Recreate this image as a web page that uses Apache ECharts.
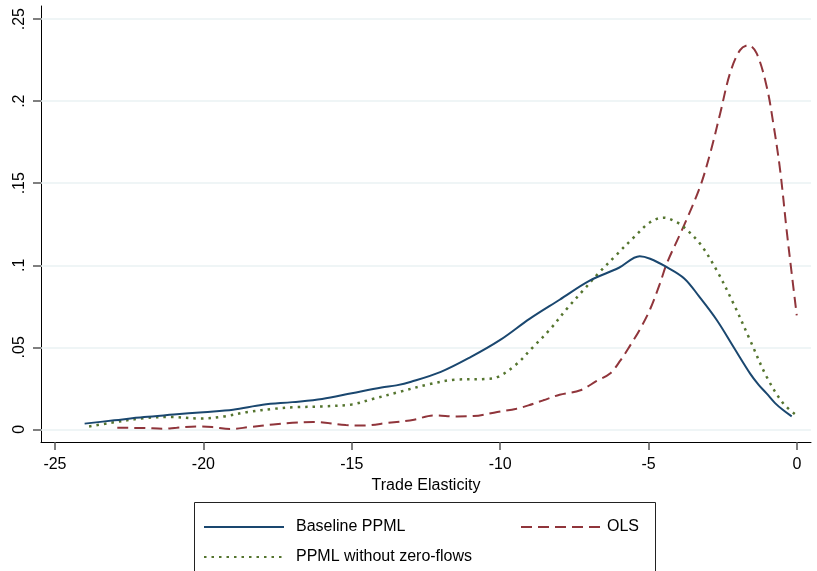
<!DOCTYPE html>
<html>
<head>
<meta charset="utf-8">
<script src="https://cdn.jsdelivr.net/npm/echarts@6/dist/echarts.min.js"></script>
<style>
  html, body { margin: 0; padding: 0; background: #fff; }
  #chart { width: 817px; height: 571px; }
</style>
</head>
<body>
<div id="chart"></div>
<script>
// Kernel density estimates of the trade elasticity, [elasticity, density]
const baselinePPML = [
  [-24.0, 0.0035], [-23.0, 0.0055], [-22.0, 0.0075], [-21.0, 0.0090], [-20.0, 0.0105],
  [-19.0, 0.0120], [-18.0, 0.0150], [-17.0, 0.0166], [-16.0, 0.0185], [-15.0, 0.0220],
  [-14.0, 0.0255], [-13.5, 0.0268], [-13.0, 0.0290], [-12.0, 0.0350], [-11.0, 0.0440],
  [-10.0, 0.0545], [-9.0, 0.0675], [-8.0, 0.0790], [-7.0, 0.0905], [-6.0, 0.0985],
  [-5.3, 0.1055], [-4.95, 0.1040], [-4.4, 0.0990], [-3.8, 0.0920], [-3.3, 0.0810],
  [-2.7, 0.0665], [-2.14, 0.0502], [-1.58, 0.0340], [-1.3, 0.0273], [-1.02, 0.0218],
  [-0.74, 0.0160], [-0.46, 0.0116], [-0.18, 0.0079]
];
const olsEstimates = [
  [-22.9, 0.0010], [-22.0, 0.0008], [-21.35, 0.0004], [-20.9, 0.0010], [-20.2, 0.0018],
  [-19.7, 0.0014], [-19.1, 0.0002], [-18.45, 0.0014], [-17.65, 0.0030], [-17.0, 0.0040],
  [-16.3, 0.0045], [-15.2, 0.0026], [-14.6, 0.0024], [-13.8, 0.0039], [-12.9, 0.0059],
  [-12.25, 0.0085], [-11.45, 0.0079], [-10.9, 0.0081], [-10.1, 0.0106], [-9.45, 0.0126],
  [-9.05, 0.0146], [-8.55, 0.0177], [-8.0, 0.0211], [-7.3, 0.0238], [-6.75, 0.0295],
  [-6.3, 0.0340], [-5.95, 0.0420], [-5.62, 0.0512], [-5.28, 0.0614], [-4.95, 0.0732],
  [-4.62, 0.0888], [-4.39, 0.1010], [-3.83, 0.1234], [-3.27, 0.1477], [-2.93, 0.1680],
  [-2.59, 0.1925], [-2.26, 0.2169], [-1.92, 0.2311], [-1.64, 0.2341], [-1.36, 0.2291],
  [-1.02, 0.2087], [-0.8, 0.1864], [-0.57, 0.1580], [-0.35, 0.1213], [-0.18, 0.0950],
  [-0.01, 0.0695]
];
const ppmlNoZeros = [
  [-23.85, 0.0018], [-23.15, 0.0039], [-22.0, 0.0068], [-21.1, 0.0075], [-20.1, 0.0066],
  [-19.3, 0.0079], [-18.5, 0.0106], [-17.6, 0.0126], [-16.9, 0.0135], [-16.0, 0.0140],
  [-15.0, 0.0152], [-14.3, 0.0185], [-13.4, 0.0228], [-12.4, 0.0275], [-11.5, 0.0303],
  [-10.5, 0.0307], [-10.1, 0.0318], [-9.5, 0.0390], [-8.9, 0.0500], [-8.3, 0.0614],
  [-7.75, 0.0736], [-7.2, 0.0848], [-6.65, 0.0959], [-6.05, 0.1070], [-5.5, 0.1170],
  [-4.95, 0.1262], [-4.5, 0.1290], [-4.05, 0.1262], [-3.8, 0.1230], [-3.27, 0.1132],
  [-2.71, 0.0970], [-2.14, 0.0766], [-1.58, 0.0543], [-1.02, 0.0319], [-0.46, 0.0157],
  [-0.01, 0.0085]
];

const xTicks = [-25, -20, -15, -10, -5, 0];
const yTicks = [0, 0.05, 0.1, 0.15, 0.2, 0.25];

const seriesNames = ['Baseline PPML', 'OLS', 'PPML without zero-flows'];
const seriesColors = ['#1a476f', '#90353b', '#55752f'];

const FONT = '"Liberation Sans", Arial, sans-serif';

function fmtY(v) {
  if (Math.abs(v) < 1e-9) return '0';
  return String(+v.toFixed(2)).replace(/^0\./, '.');
}

const chart = echarts.init(document.getElementById('chart'), null, { renderer: 'canvas' });

const gridLines = yTicks.map(v => ({ yAxis: v }));

// one legend block per key so the entries sit in two columns
function legendEntry(name, left, top, textPad) {
  return {
    data: [name], left: left, top: top, itemWidth: 80, itemHeight: 14, itemGap: 0,
    selectedMode: false,
    itemStyle: { opacity: 0, borderWidth: 0 },
    textStyle: { fontSize: 16, color: '#000', fontFamily: FONT, padding: [0, 0, 0, textPad] }
  };
}

chart.setOption({
  backgroundColor: '#ffffff',
  animation: false,
  textStyle: { fontFamily: FONT },
  grid: { left: 41, right: 6, top: 6, bottom: 129, containLabel: false },
  xAxis: {
    type: 'value',
    min: -25.47,
    max: 0.47,
    name: 'Trade Elasticity',
    nameLocation: 'middle',
    nameGap: 34,
    nameTextStyle: { color: '#000', fontSize: 16, fontFamily: FONT },
    axisLine: { show: true, onZero: false, lineStyle: { color: '#000', width: 1 } },
    axisTick: { show: true, length: 8, customValues: xTicks, lineStyle: { color: '#555', width: 1.5 } },
    axisLabel: { customValues: xTicks, margin: 15, color: '#000', fontSize: 16, fontFamily: FONT,
                 formatter: v => String(v) },
    splitLine: { show: false }
  },
  yAxis: {
    type: 'value',
    min: -0.0077,
    max: 0.258,
    axisLine: { show: true, onZero: false, lineStyle: { color: '#000', width: 1 } },
    axisTick: { show: true, length: 8, customValues: yTicks, lineStyle: { color: '#555', width: 1.5 } },
    axisLabel: { customValues: yTicks, margin: 13, rotate: 90, color: '#000', fontSize: 16, fontFamily: FONT,
                 formatter: fmtY },
    splitLine: { show: false }
  },
  legend: [
    legendEntry(seriesNames[0], 198, 514, 7),
    legendEntry(seriesNames[1], 515, 514, 1),
    legendEntry(seriesNames[2], 198, 544, 7)
  ],
  graphic: [
    { type: 'rect', shape: { x: 194.5, y: 502.5, width: 461, height: 90 },
      style: { fill: 'none', stroke: '#222', lineWidth: 1 }, silent: true, z: 0 }
  ],
  series: [
    {
      name: seriesNames[0], type: 'line', data: baselinePPML, smooth: 0.35, showSymbol: false, symbol: 'none',
      lineStyle: { color: seriesColors[0], width: 2, type: 'solid' }, itemStyle: { color: seriesColors[0] },
      z: 4,
      markLine: {
        silent: true, symbol: 'none', label: { show: false },
        lineStyle: { color: '#eaf2f3', width: 1.5, type: 'solid' },
        data: gridLines, z: 1
      }
    },
    {
      name: seriesNames[1], type: 'line', data: olsEstimates, smooth: 0.35, showSymbol: false, symbol: 'none',
      lineStyle: { color: seriesColors[1], width: 2, type: [11, 6] }, itemStyle: { color: seriesColors[1] },
      z: 3
    },
    {
      name: seriesNames[2], type: 'line', data: ppmlNoZeros, smooth: 0.35, showSymbol: false, symbol: 'none',
      lineStyle: { color: seriesColors[2], width: 2.5, type: [2.5, 5] }, itemStyle: { color: seriesColors[2] },
      z: 3
    }
  ]
});
</script>
</body>
</html>
